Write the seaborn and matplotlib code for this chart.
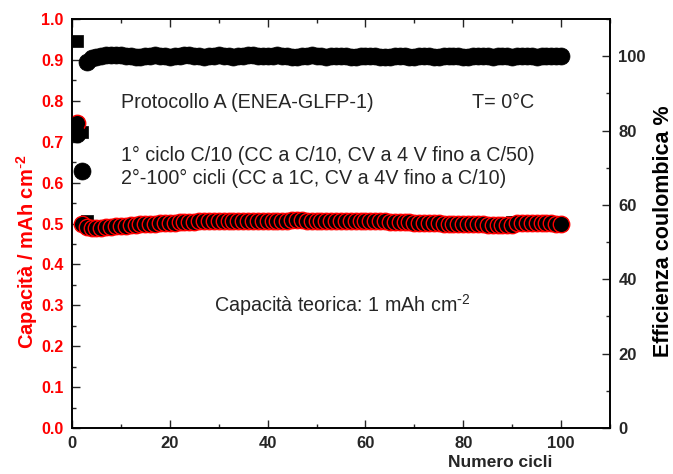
import numpy as np
import pandas as pd
import matplotlib
matplotlib.use("Agg")
import matplotlib.pyplot as plt
from matplotlib.ticker import MultipleLocator
import seaborn as sns

sns.set_style("ticks")
plt.rcParams['font.family'] = ['Liberation Sans', 'DejaVu Sans']
plt.rcParams['mathtext.default'] = 'regular'
plt.rcParams['axes.unicode_minus'] = False

# ---- data ----
cycles = list(range(1, 101))

capacity_discharge = [
    0.745, 0.500, 0.492, 0.490, 0.489, 0.490, 0.491, 0.492, 0.493, 0.494,
    0.495, 0.496, 0.497, 0.498, 0.499, 0.500, 0.500, 0.501, 0.501, 0.502,
    0.502, 0.503, 0.503, 0.504, 0.504, 0.505, 0.505, 0.505, 0.506, 0.506,
    0.506, 0.506, 0.507, 0.507, 0.507, 0.507, 0.507, 0.507, 0.507, 0.507,
    0.507, 0.507, 0.507, 0.507, 0.508, 0.508, 0.508, 0.507, 0.507, 0.507,
    0.507, 0.507, 0.507, 0.507, 0.507, 0.507, 0.506, 0.506, 0.506, 0.506,
    0.506, 0.505, 0.505, 0.505, 0.504, 0.504, 0.503, 0.503, 0.503, 0.502,
    0.502, 0.502, 0.501, 0.501, 0.501, 0.500, 0.500, 0.500, 0.499, 0.499,
    0.499, 0.498, 0.498, 0.498, 0.497, 0.497, 0.497, 0.497, 0.497, 0.497,
    0.502, 0.502, 0.502, 0.502, 0.502, 0.502, 0.501, 0.501, 0.500, 0.500,
]

capacity_charge = [
    0.945, 0.724, 0.505, 0.493, 0.491, 0.491, 0.492, 0.493, 0.494, 0.495,
    0.496, 0.497, 0.498, 0.499, 0.500, 0.500, 0.501, 0.501, 0.502, 0.502,
    0.503, 0.503, 0.504, 0.504, 0.505, 0.505, 0.505, 0.506, 0.506, 0.506,
    0.506, 0.507, 0.507, 0.507, 0.507, 0.507, 0.507, 0.507, 0.507, 0.507,
    0.507, 0.507, 0.507, 0.508, 0.508, 0.508, 0.507, 0.507, 0.507, 0.507,
    0.507, 0.507, 0.507, 0.507, 0.507, 0.506, 0.506, 0.506, 0.506, 0.506,
    0.505, 0.505, 0.505, 0.504, 0.504, 0.503, 0.503, 0.503, 0.502, 0.502,
    0.502, 0.501, 0.501, 0.501, 0.500, 0.500, 0.500, 0.499, 0.499, 0.499,
    0.498, 0.498, 0.498, 0.497, 0.497, 0.497, 0.497, 0.497, 0.497, 0.504,
    0.503, 0.502, 0.502, 0.502, 0.502, 0.501, 0.501, 0.500, 0.500, 0.500,
]

efficiency = [
    79.2, 69.0, 98.5, 99.6, 99.8, 100.0, 100.2, 100.3, 100.3, 100.2,
    100.1, 100.0, 99.9, 99.9, 100.0, 100.1, 100.2, 100.1, 100.0, 99.9,
    100.0, 100.1, 100.2, 100.2, 100.1, 100.0, 99.9, 100.0, 100.1, 100.2,
    100.1, 100.0, 99.9, 100.0, 100.1, 100.2, 100.2, 100.1, 100.0, 100.0,
    100.1, 100.2, 100.1, 100.0, 99.9, 99.9, 100.0, 100.1, 100.2, 100.1,
    100.0, 99.9, 100.0, 100.1, 100.1, 100.0, 99.9, 99.9, 100.0, 100.1,
    100.1, 100.0, 99.9, 99.8, 99.9, 100.0, 100.1, 100.0, 99.9, 99.9,
    100.0, 100.1, 100.0, 99.9, 99.9, 100.0, 100.0, 100.1, 100.0, 99.9,
    99.9, 100.0, 100.1, 100.0, 100.0, 99.9, 100.0, 100.1, 100.0, 99.9,
    100.0, 100.0, 100.1, 100.0, 99.9, 100.0, 100.0, 100.0, 100.0, 100.0,
]

xticks = [0, 20, 40, 60, 80, 100]
left_ticks = [0.0, 0.1, 0.2, 0.3, 0.4, 0.5, 0.6, 0.7, 0.8, 0.9, 1.0]
right_ticks = [0, 20, 40, 60, 80, 100]

df = pd.DataFrame({"cycle": cycles, "charge": capacity_charge,
                   "discharge": capacity_discharge, "eff": efficiency})

# ---- figure ----
fig = plt.figure(figsize=(6.73, 4.74), dpi=100)
ax = fig.add_axes([72 / 673, 46 / 474, 538 / 673, 409 / 474])
ax2 = ax.twinx()

sns.scatterplot(data=df, x="cycle", y="charge", ax=ax, marker="s", s=85,
                color="black", edgecolor="black", linewidth=0.5, zorder=2)
sns.scatterplot(data=df, x="cycle", y="discharge", ax=ax, marker="o", s=140,
                color="black", edgecolor="red", linewidth=1.0, zorder=3)
sns.scatterplot(data=df, x="cycle", y="eff", ax=ax2, marker="o", s=150,
                color="black", edgecolor="black", linewidth=0.5, zorder=3)

ax.set_xlim(0, 110)
ax.set_ylim(0, 1.0)
ax2.set_ylim(0, 110)

ax.set_xticks(xticks)
ax.set_xticklabels([str(t) for t in xticks])
ax.xaxis.set_minor_locator(MultipleLocator(10))
ax.set_yticks(left_ticks)
ax.set_yticklabels([f"{t:.1f}" for t in left_ticks])
ax.yaxis.set_minor_locator(MultipleLocator(0.05))
ax2.set_yticks(right_ticks)
ax2.set_yticklabels([str(t) for t in right_ticks])
ax2.yaxis.set_minor_locator(MultipleLocator(10))

ax.tick_params(axis="x", which="both", direction="in", top=True, labelsize=12,
               width=1.0, pad=6)
ax.tick_params(axis="x", which="major", length=6)
ax.tick_params(axis="x", which="minor", length=3)
ax.tick_params(axis="y", which="both", direction="in", right=False,
               labelsize=11.5, labelcolor="red", width=1.0, pad=6)
ax.tick_params(axis="y", which="major", length=6)
ax.tick_params(axis="y", which="minor", length=3)
ax2.tick_params(axis="y", which="both", direction="in", labelsize=12,
                width=1.0, pad=6)
ax2.tick_params(axis="y", which="major", length=6)
ax2.tick_params(axis="y", which="minor", length=3)

for lab in ax.get_xticklabels() + ax.get_yticklabels() + ax2.get_yticklabels():
    lab.set_fontweight("bold")

for a in (ax, ax2):
    for sp in a.spines.values():
        sp.set_visible(True)
        sp.set_linewidth(1.2)
        sp.set_color("black")

sup = r"$^{\text{-}2}$"

ax.set_xlabel("Numero cicli", fontsize=12.5, fontweight="bold")
ax.xaxis.set_label_coords(0.795, -0.066)
ax.set_ylabel("Capacità / mAh cm" + sup, fontsize=14.5, fontweight="bold",
              color="red")
ax.yaxis.set_label_coords(-0.06, 0.43)
ax2.set_ylabel("Efficienza coulombica %", fontsize=15.5, fontweight="bold",
               color="black")
ax2.yaxis.set_label_coords(1.08, 0.48)

fs = 14.2
ax.text(10.1, 0.795, "Protocollo A (ENEA-GLFP-1)", fontsize=fs, va="center")
ax.text(81.8, 0.795, "T= 0°C", fontsize=fs, va="center")
ax.text(10.1, 0.667, "1° ciclo C/10 (CC a C/10, CV a 4 V fino a C/50)",
        fontsize=fs, va="center")
ax.text(10.1, 0.609, "2°-100° cicli (CC a 1C, CV a 4V fino a C/10)",
        fontsize=fs, va="center")
ax.text(29.1, 0.30, "Capacità teorica: 1 mAh cm" + sup, fontsize=fs,
        va="center")

fig.savefig("out.png", dpi=100)
